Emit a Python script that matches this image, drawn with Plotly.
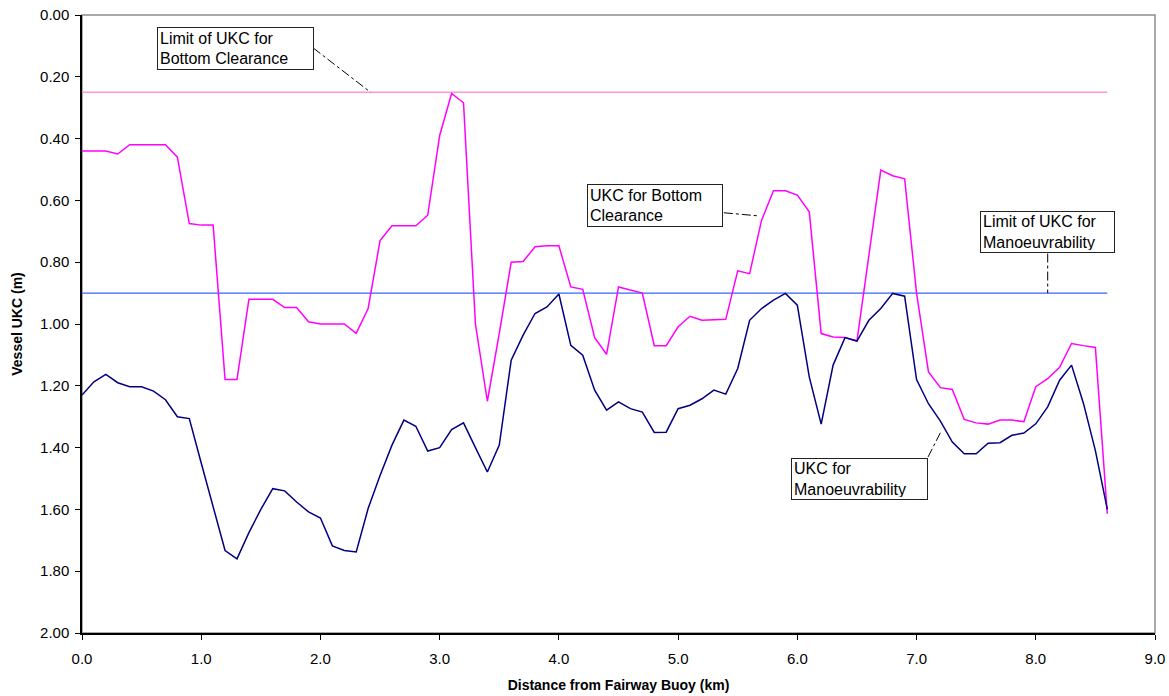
import plotly.graph_objects as go

distance_km = [0.0, 0.1, 0.2, 0.3, 0.4, 0.5, 0.6, 0.7, 0.8, 0.9,
               1.0, 1.1, 1.2, 1.3, 1.4, 1.5, 1.6, 1.7, 1.8, 1.9,
               2.0, 2.1, 2.2, 2.3, 2.4, 2.5, 2.6, 2.7, 2.8, 2.9,
               3.0, 3.1, 3.2, 3.3, 3.4, 3.5, 3.6, 3.7, 3.8, 3.9,
               4.0, 4.1, 4.2, 4.3, 4.4, 4.5, 4.6, 4.7, 4.8, 4.9,
               5.0, 5.1, 5.2, 5.3, 5.4, 5.5, 5.6, 5.7, 5.8, 5.9,
               6.0, 6.1, 6.2, 6.3, 6.4, 6.5, 6.6, 6.7, 6.8, 6.9,
               7.0, 7.1, 7.2, 7.3, 7.4, 7.5, 7.6, 7.7, 7.8, 7.9,
               8.0, 8.1, 8.2, 8.3, 8.4, 8.5, 8.6]

ukc_bottom_clearance = [0.44, 0.44, 0.44, 0.45, 0.42, 0.42, 0.42, 0.42, 0.46, 0.675,
                        0.68, 0.68, 1.18, 1.18, 0.92, 0.92, 0.92, 0.947, 0.947, 0.993,
                        1.00, 1.00, 1.00, 1.03, 0.95, 0.73, 0.682, 0.682, 0.682, 0.648,
                        0.39, 0.254, 0.284, 1.00, 1.25, 1.03, 0.80, 0.798, 0.75, 0.747,
                        0.747, 0.88, 0.888, 1.044, 1.098, 0.88, 0.89, 0.90, 1.07, 1.07,
                        1.009, 0.975, 0.988, 0.987, 0.985, 0.828, 0.837, 0.664, 0.569, 0.569,
                        0.583, 0.637, 1.031, 1.042, 1.044, 1.055, 0.78, 0.502, 0.52, 0.53,
                        0.90, 1.155, 1.206, 1.212, 1.309, 1.32, 1.324, 1.311, 1.311, 1.316,
                        1.203, 1.177, 1.14, 1.063, 1.07, 1.076, 1.614]

ukc_manoeuvrability = [1.23, 1.187, 1.163, 1.19, 1.203, 1.203, 1.217, 1.245, 1.30, 1.306,
                       1.45, 1.587, 1.733, 1.76, 1.675, 1.60, 1.533, 1.54, 1.576, 1.608,
                       1.628, 1.718, 1.733, 1.738, 1.597, 1.49, 1.392, 1.311, 1.331, 1.411,
                       1.40, 1.342, 1.32, 1.40, 1.479, 1.392, 1.117, 1.036, 0.966, 0.945,
                       0.903, 1.069, 1.101, 1.214, 1.279, 1.252, 1.274, 1.285, 1.351, 1.35,
                       1.274, 1.263, 1.242, 1.214, 1.227, 1.144, 0.988, 0.95, 0.923, 0.901,
                       0.939, 1.171, 1.324, 1.133, 1.044, 1.055, 0.988, 0.95, 0.901, 0.91,
                       1.18, 1.258, 1.314, 1.382, 1.42, 1.42, 1.386, 1.384, 1.36, 1.353,
                       1.323, 1.268, 1.182, 1.133, 1.257, 1.41, 1.60]

limit_x = [0.0, 8.6]
limit_bottom_clearance = [0.25, 0.25]
limit_manoeuvrability = [0.90, 0.90]

x_tick_vals = [0, 1, 2, 3, 4, 5, 6, 7, 8, 9]
x_tick_text = ["0.0", "1.0", "2.0", "3.0", "4.0", "5.0", "6.0", "7.0", "8.0", "9.0"]
y_tick_vals = [0.0, 0.2, 0.4, 0.6, 0.8, 1.0, 1.2, 1.4, 1.6, 1.8, 2.0]
y_tick_text = ["0.00", "0.20", "0.40", "0.60", "0.80", "1.00", "1.20", "1.40", "1.60", "1.80", "2.00"]

FONT = "Liberation Sans, Arial, sans-serif"

fig = go.Figure()
fig.add_trace(go.Scatter(x=limit_x, y=limit_bottom_clearance, mode="lines",
                         line=dict(color="#FF99CC", width=1.3), name="Limit of UKC for Bottom Clearance"))
fig.add_trace(go.Scatter(x=limit_x, y=limit_manoeuvrability, mode="lines",
                         line=dict(color="#3366FF", width=1.3), name="Limit of UKC for Manoeuvrability"))
fig.add_trace(go.Scatter(x=distance_km, y=ukc_bottom_clearance, mode="lines",
                         line=dict(color="#FF00FF", width=1.5), name="UKC for Bottom Clearance"))
fig.add_trace(go.Scatter(x=distance_km, y=ukc_manoeuvrability, mode="lines",
                         line=dict(color="#000080", width=1.5), name="UKC for Manoeuvrability"))

# label boxes (text, centre x, centre y, width px, height px)
labels = [
    ("Limit of UKC for<br>Bottom Clearance", 1.285, 0.107, 157, 43),
    ("UKC for Bottom<br>Clearance", 4.81, 0.616, 136, 43),
    ("Limit of UKC for<br>Manoeuvrability", 8.095, 0.702, 135, 42),
    ("UKC for<br>Manoeuvrability", 6.525, 1.503, 137, 42),
]
for text, cx, cy, w, h in labels:
    fig.add_annotation(x=cx, y=cy, xref="x", yref="y", text=text, showarrow=False,
                       width=w - 6, height=h - 6, align="left", valign="middle",
                       font=dict(family=FONT, size=16, color="black"),
                       bgcolor="white", bordercolor="#222222", borderwidth=1, borderpad=2)

# leader lines (from box edge to line)
leaders = [
    (1.94, 0.107, 2.42, 0.25),
    (5.384, 0.640, 5.67, 0.650),
    (8.10, 0.772, 8.10, 0.90),
    (7.097, 1.43, 7.21, 1.344),
]
for x0, y0, x1, y1 in leaders:
    fig.add_shape(type="line", xref="x", yref="y", x0=x0, y0=y0, x1=x1, y1=y1,
                  line=dict(color="black", width=1, dash="dashdot"))

# grey top/right frame
fig.add_shape(type="rect", xref="paper", yref="paper", x0=0, y0=0, x1=1, y1=1,
              line=dict(color="#8C8C8C", width=1.5), layer="below")

fig.update_layout(
    width=1169, height=696,
    margin=dict(l=82, r=14, t=15, b=63),
    paper_bgcolor="white", plot_bgcolor="white",
    showlegend=False,
    font=dict(family=FONT, size=15, color="black"),
)
fig.update_xaxes(range=[0, 9], tickvals=x_tick_vals, ticktext=x_tick_text, automargin=False,
                 showgrid=False, zeroline=False, showline=True, linecolor="black", linewidth=1.5,
                 ticks="outside", ticklen=5, tickcolor="black", tickfont=dict(size=15),
                 ticklabelstandoff=6,
                 title=dict(text="<b>Distance from Fairway Buoy (km)</b>", font=dict(size=14), standoff=14))
fig.update_yaxes(range=[2.0, 0.0], tickvals=y_tick_vals, ticktext=y_tick_text, automargin=False,
                 showgrid=False, zeroline=False, showline=True, linecolor="black", linewidth=1.5,
                 ticks="outside", ticklen=5, tickcolor="black", tickfont=dict(size=15),
                 ticklabelstandoff=3,
                 title=dict(text="<b>Vessel UKC (m)</b>", font=dict(size=14), standoff=14))

fig.write_html("out.html")
